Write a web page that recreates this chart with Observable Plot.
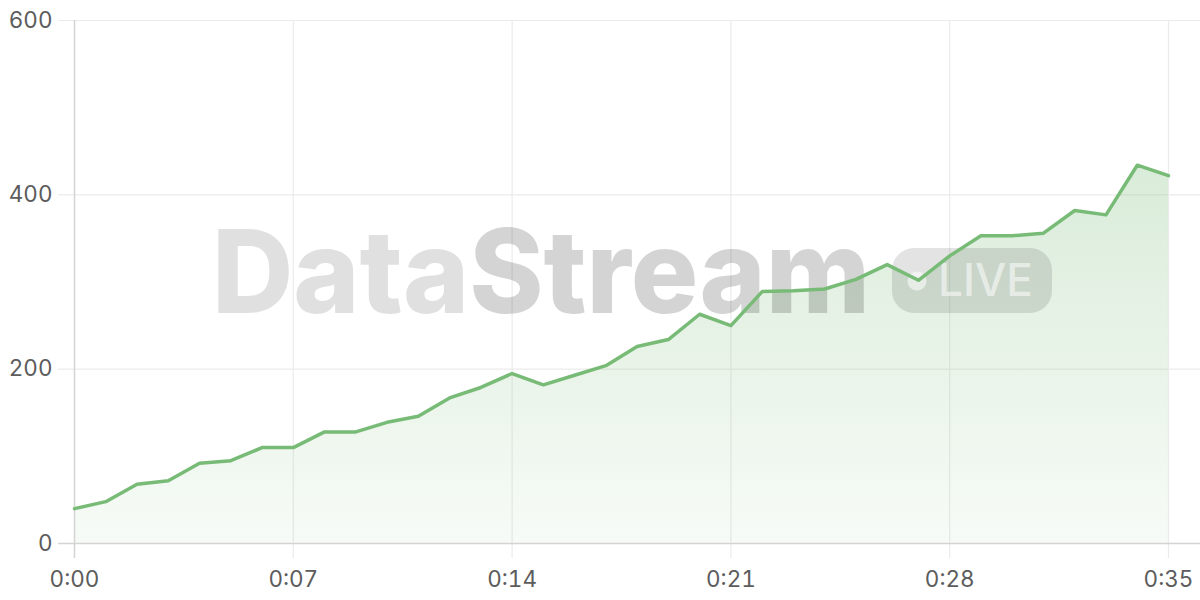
<!DOCTYPE html>
<html>
<head>
<meta charset="utf-8">
<script src="https://cdn.jsdelivr.net/npm/d3@7"></script>
<script src="https://cdn.jsdelivr.net/npm/@observablehq/plot@0.6"></script>
<style>
  html, body { margin: 0; padding: 0; background: #fff; }
  #chart { width: 1200px; height: 600px; }
</style>
</head>
<body>
<div id="chart"></div>
<script>
const seconds = [0,1,2,3,4,5,6,7,8,9,10,11,12,13,14,15,16,17,18,19,20,21,22,23,24,25,26,27,28,29,30,31,32,33,34,35];
const values  = [40,48,68,72,92,95,110,110,128,128,139,146,167,179,195,182,193,204,226,234,263,250,289,290,292,303,320,302,330,353,353,356,382,377,434,422];
const xTicks = [0,7,14,21,28,35];
const yTicks = [0,200,400,600];
const watermarkA = "Data";
const watermarkB = "Stream";
const badgeText = "LIVE";

const data = seconds.map((t, i) => ({t, v: values[i]}));
const fmt = d => `0:${String(d).padStart(2, "0")}`;

function watermark() {
  const g = d3.create("svg:g").attr("pointer-events", "none").attr("text-anchor", "start");
  const t = g.append("text")
    .attr("x", 212).attr("y", 313)
    .attr("text-anchor", "start")
    .attr("font-family", "Inter, 'Open Sans', sans-serif")
    .attr("font-weight", 800)
    .attr("font-size", 116)
    .attr("textLength", 658)
    .attr("lengthAdjust", "spacingAndGlyphs");
  t.append("tspan").attr("fill", "#000").attr("fill-opacity", 0.12).text(watermarkA);
  t.append("tspan").attr("fill", "#000").attr("fill-opacity", 0.17).text(watermarkB);
  g.append("rect")
    .attr("x", 892).attr("y", 248).attr("width", 160).attr("height", 65)
    .attr("rx", 22).attr("fill", "#000").attr("fill-opacity", 0.11);
  g.append("circle")
    .attr("cx", 917).attr("cy", 281).attr("r", 9.5)
    .attr("fill", "#fff").attr("fill-opacity", 0.55);
  g.append("text")
    .attr("x", 938).attr("y", 296)
    .attr("text-anchor", "start")
    .attr("font-family", "Inter, 'Open Sans', sans-serif")
    .attr("font-weight", 500)
    .attr("font-size", 45)
    .attr("textLength", 95)
    .attr("lengthAdjust", "spacingAndGlyphs")
    .attr("fill", "#fff").attr("fill-opacity", 0.55)
    .text(badgeText);
  return g.node();
}

const chart = Plot.plot({
  width: 1200,
  height: 600,
  marginLeft: 74,
  marginRight: 32,
  marginTop: 20,
  marginBottom: 57,
  style: { fontFamily: "Inter, 'Open Sans', sans-serif", fontSize: "22.5px", color: "#666", background: "#fff", overflow: "visible" },
  x: { domain: [0, 35], label: null },
  y: { domain: [0, 600], label: null },
  marks: [
    Plot.ruleY(yTicks.filter(d => d > 0), { stroke: "#ebebeb", strokeWidth: 1.2, insetLeft: -16, insetRight: -32 }),
    Plot.ruleX(xTicks.filter(d => d > 0), { stroke: "#ebebeb", strokeWidth: 1.2, insetBottom: -15 }),
    Plot.areaY(data, { x: "t", y: "v", fill: "url(#areaGrad)", curve: "linear" }),
    watermark,
    Plot.ruleX([0], { stroke: "#d4d4d4", strokeWidth: 1.5, insetBottom: -15 }),
    Plot.ruleY([0], { stroke: "#d4d4d4", strokeWidth: 1.5, insetLeft: -16, insetRight: -32 }),
    Plot.lineY(data, { x: "t", y: "v", stroke: "#78bb77", strokeWidth: 3.5, strokeLinejoin: "round" }),
    Plot.axisX({ ticks: xTicks, tickFormat: fmt, tickSize: 0, tickPadding: 28, fill: "#5c5c5c", fontSize: 22.5, label: null }),
    Plot.axisY({ ticks: yTicks, tickSize: 0, tickPadding: 22, fill: "#5c5c5c", fontSize: 22.5, label: null })
  ]
});

const svg = d3.select(chart);
const defs = svg.insert("defs", ":first-child");
const grad = defs.append("linearGradient")
  .attr("id", "areaGrad").attr("x1", 0).attr("y1", 0).attr("x2", 0).attr("y2", 1);
grad.append("stop").attr("offset", "0%").attr("stop-color", "#7aba78").attr("stop-opacity", 0.28);
grad.append("stop").attr("offset", "100%").attr("stop-color", "#7aba78").attr("stop-opacity", 0.06);

document.getElementById("chart").appendChild(chart);
</script>
</body>
</html>
